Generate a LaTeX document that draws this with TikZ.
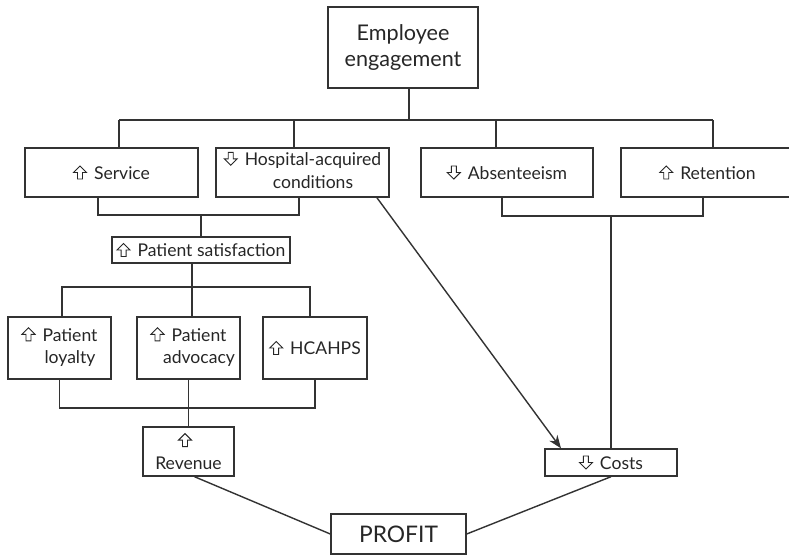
\documentclass[tikz,border=0pt]{standalone}
\usepackage{fontspec}
\setmainfont{Lato}
\usetikzlibrary{arrows.meta}
% hollow up / down arrows
\newcommand{\upar}{\tikz[x=1cm, y=1cm, baseline=-0.2pt, line width=0.55pt, line join=miter]
  \draw[black!85] (-0.05,0) -- (0.05,0) -- (0.05,0.13) -- (0.13,0.13) -- (0,0.26) -- (-0.13,0.13) -- (-0.05,0.13) -- cycle;\hspace{0.4em}}
\newcommand{\dnar}{\tikz[x=1cm, y=1cm, baseline=-0.2pt, line width=0.55pt, line join=miter]
  \draw[black!85] (-0.05,0.26) -- (0.05,0.26) -- (0.05,0.13) -- (0.13,0.13) -- (0,0) -- (-0.13,0.13) -- (-0.05,0.13) -- cycle;\hspace{0.4em}}
% arrow in front, second line centred under the first word
\newcommand{\twoline}[3]{\begin{tabular}{@{}c@{}c@{}}#1 & #2\\ & \makebox[0pt]{#3}\end{tabular}}
\tikzset{
  box/.style={draw=black!80, text=black!85, line width=0.8pt, inner sep=1pt, align=center,
    font=\fontsize{10}{13}\selectfont},
  link/.style={draw=black!80, line width=0.8pt},
}
\begin{document}
\begin{tikzpicture}[x=0.02cm, y=-0.02cm]
\useasboundingbox (0,0) rectangle (789,556);

% top
\node[box, font=\fontsize{12.3}{14.5}\selectfont, minimum width=3cm, minimum height=1.62cm] (eng) at (403,47.5) {Employee\\engagement};

% first row
\node[box, minimum width=3.46cm, minimum height=0.98cm] (service) at (111.5,172.5) {\upar Service};
\node[box, minimum width=3.46cm, minimum height=0.98cm] (hac) at (302.5,172.5) {\twoline{\dnar}{Hospital-acquired}{conditions}};
\node[box, minimum width=3.44cm, minimum height=0.98cm] (absent) at (507,172.5) {\dnar Absenteeism};
\node[box, minimum width=3.46cm, minimum height=0.98cm] (retain) at (707.5,172.5) {\upar Retention};

% patient side
\node[box, minimum width=3.56cm, minimum height=0.52cm] (psat) at (201,250) {\upar Patient satisfaction};
\node[box, minimum width=2.06cm, minimum height=1.24cm] (loyal) at (59.5,348) {\twoline{\upar}{Patient}{loyalty}};
\node[box, minimum width=2.06cm, minimum height=1.24cm] (advoc) at (188.5,348) {\twoline{\upar}{Patient}{advocacy}};
\node[box, minimum width=2.08cm, minimum height=1.24cm] (hcahps) at (315,348) {\upar HCAHPS};
\node[box, minimum width=1.82cm, minimum height=0.98cm] (revenue) at (188.5,451.5) {\upar\hspace{-0.4em}\\Revenue};

% cost side and bottom
\node[box, minimum width=2.64cm, minimum height=0.54cm] (costs) at (611,462.5) {\dnar Costs};
\node[box, font=\fontsize{13}{15}\selectfont, minimum width=2.7cm, minimum height=0.8cm] (profit) at (398.5,534) {PROFIT};

% engagement to first row
\draw[link] ([xshift=0.12cm]eng.south) -- ([xshift=0.12cm]eng.south |- 0,120);
\draw[link] (119,120) -- (713,120);
\foreach \n/\x in {service/119, hac/294, absent/496, retain/713}
  \draw[link] (\x,120) -- (\x,0 |- \n.north);

% service + hac to patient satisfaction
\draw[link] (98,0 |- service.south) |- (psat.north |- 0,215) -| (299,0 |- hac.south);
\draw[link] (psat.north) -- (psat.north |- 0,215);

% absenteeism + retention to costs
\draw[link] (502,0 |- absent.south) |- (costs.north |- 0,216) -| (703,0 |- retain.south);
\draw[link] (costs.north) -- (costs.north |- 0,216);

% patient satisfaction to the three
\draw[link] (192,0 |- psat.south) -- (192,287);
\draw[link] (62,0 |- loyal.north) |- (192,287) -| (310,0 |- hcahps.north);
\draw[link] (192,287) -- (192,0 |- advoc.north);

% the three to revenue
\draw[link] (loyal.south) |- (revenue.north |- 0,408) -| (hcahps.south);
\draw[link] (advoc.south) -- (revenue.north);

% hospital-acquired conditions to costs
\draw[link, -{Stealth[length=2.6mm,width=2mm]}] (377,0 |- hac.south) -- (561,0 |- costs.north);

% to profit
\draw[link] ([xshift=0.12cm]revenue.south) -- (profit.west);
\draw[link] (costs.south) -- (profit.east);
\end{tikzpicture}
\end{document}
